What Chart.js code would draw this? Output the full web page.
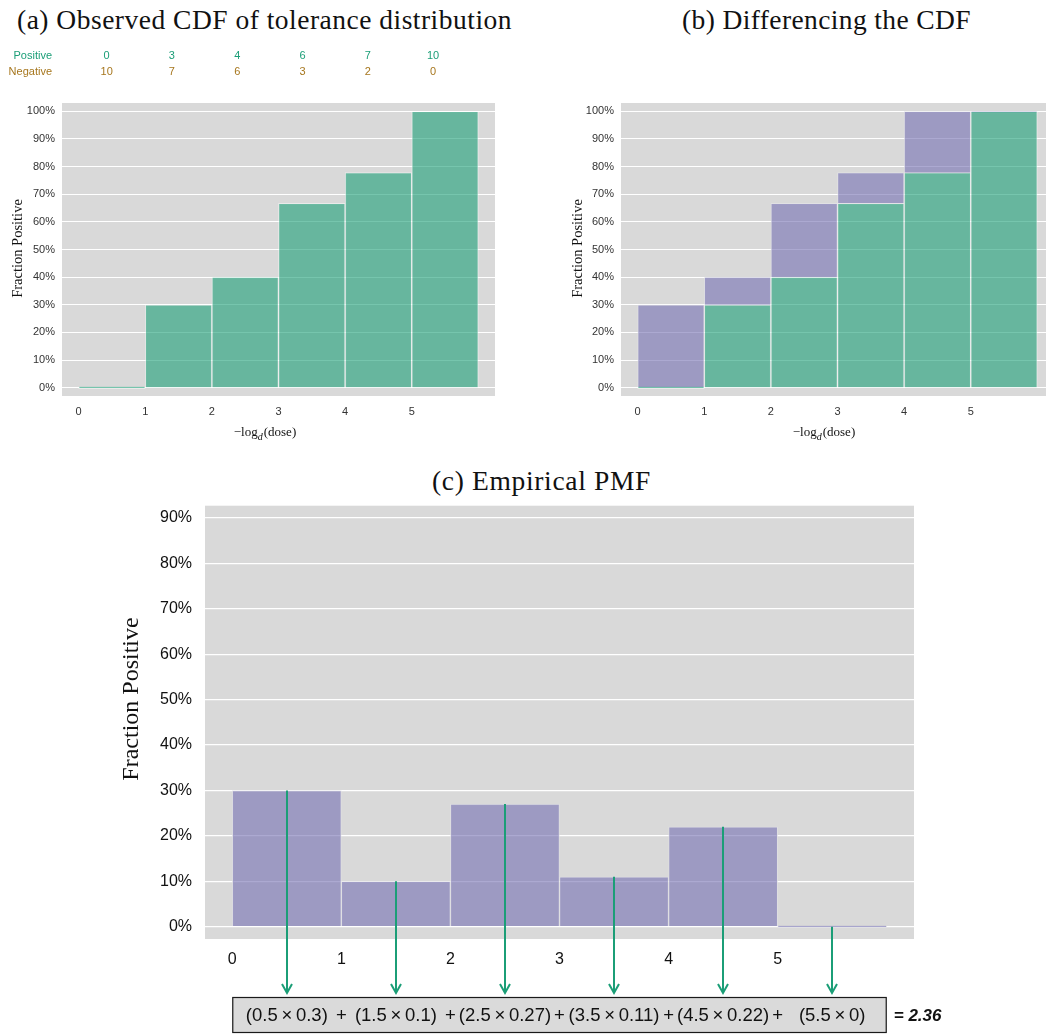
<!DOCTYPE html>
<html>
<head>
<meta charset="utf-8">
<script src="https://cdn.jsdelivr.net/npm/chart.js@4/dist/chart.umd.min.js"></script>
<style>
  html, body { margin: 0; padding: 0; background: #fff; width: 1046px; height: 1034px; overflow: hidden; }
  .panel { position: absolute; }
  .title { position: absolute; font-family: "Liberation Serif", "Times New Roman", serif; color: #111; white-space: nowrap; }
</style>
</head>
<body>
<div class="title" id="titleA">(a) Observed CDF of tolerance distribution</div>
<div class="title" id="titleB">(b) Differencing the CDF</div>
<div class="title" id="titleC">(c) Empirical PMF</div>

<div class="panel" style="left:0px;top:40px"><canvas id="chartA" width="530" height="410"></canvas></div>
<div class="panel" style="left:559px;top:40px"><canvas id="chartB" width="530" height="410"></canvas></div>
<div class="panel" style="left:0px;top:455px"><canvas id="chartC" width="1046" height="579"></canvas></div>

<script>
// ---- data ----
const doseTicks   = [0, 1, 2, 3, 4, 5];
const binMids     = [0.5, 1.5, 2.5, 3.5, 4.5, 5.5];          // centre of each dose interval
const positives   = [0, 3, 4, 6, 7, 10];
const negatives   = [10, 7, 6, 3, 2, 0];
const cdfObserved = [0, 0.3, 0.4, 0.667, 0.778, 1.0];         // fraction positive per interval
const cdfNext     = [0.3, 0.4, 0.667, 0.778, 1.0, 1.0];       // CDF of the following interval
const pmf         = [0.3, 0.1, 0.27, 0.11, 0.22, 0];          // differenced CDF
const pmfMean     = '2.36';
const cdfTicks    = [0, 0.1, 0.2, 0.3, 0.4, 0.5, 0.6, 0.7, 0.8, 0.9, 1.0];
const pmfTicks    = [0, 0.1, 0.2, 0.3, 0.4, 0.5, 0.6, 0.7, 0.8, 0.9];

// ---- styling ----
const GREEN = '#1b9e77';
const BROWN = '#a6761d';
const GREEN_FILL = 'rgba(27,158,119,0.6)';
const PURPLE_FILL = 'rgba(117,112,179,0.6)';
const PANEL_BG = '#d9d9d9';
const SANS = '"Liberation Sans", Arial, Helvetica, sans-serif';
const SERIF = '"Liberation Serif", "Times New Roman", serif';

Chart.defaults.font.family = SANS;

const panelBackground = {
  id: 'panelBackground',
  beforeDraw(chart) {
    const { ctx, chartArea: a } = chart;
    ctx.save();
    ctx.fillStyle = PANEL_BG;
    ctx.fillRect(a.left, a.top, a.right - a.left, a.bottom - a.top);
    ctx.restore();
  }
};

function yTitle(text, size, cx, cy) {
  return {
    id: 'yTitle',
    afterDraw(chart) {
      const ctx = chart.ctx;
      ctx.save();
      ctx.translate(cx, cy);
      ctx.rotate(-Math.PI / 2);
      ctx.font = `${size}px ${SERIF}`;
      ctx.fillStyle = '#111';
      ctx.textAlign = 'center';
      ctx.textBaseline = 'middle';
      ctx.fillText(text, 0, 0);
      ctx.restore();
    }
  };
}

// "−log_d(dose)" with an italic subscript
function doseTitle(cx, cy) {
  return {
    id: 'doseTitle',
    afterDraw(chart) {
      const ctx = chart.ctx;
      ctx.save();
      ctx.fillStyle = '#111';
      ctx.textBaseline = 'alphabetic';
      const main = `13px ${SERIF}`, sub = `italic 10px ${SERIF}`;
      const parts = [['\u2212log', main, 0], ['d', sub, 4], ['(dose)', main, 0]];
      let total = 0;
      parts.forEach(p => { ctx.font = p[1]; total += ctx.measureText(p[0]).width + (p[0] === 'd' ? 1 : 0); });
      let x = cx - total / 2;
      const base = cy + 4;
      parts.forEach(p => {
        ctx.font = p[1];
        ctx.textAlign = 'left';
        ctx.fillText(p[0], x, base + p[2]);
        x += ctx.measureText(p[0]).width + (p[0] === 'd' ? 1 : 0);
      });
      ctx.restore();
    }
  };
}

const countsHeader = {
  id: 'countsHeader',
  afterDraw(chart) {
    const ctx = chart.ctx, xs = chart.scales.x;
    ctx.save();
    ctx.font = `11px ${SANS}`;
    ctx.textBaseline = 'middle';
    ctx.textAlign = 'right';
    ctx.fillStyle = GREEN; ctx.fillText('Positive', 52, 15.5);
    ctx.fillStyle = BROWN; ctx.fillText('Negative', 52, 31.5);
    ctx.textAlign = 'center';
    positives.forEach((v, i) => {
      const x = xs.getPixelForValue(0.42 + 0.98 * i);
      ctx.fillStyle = GREEN; ctx.fillText(String(v), x, 15.5);
      ctx.fillStyle = BROWN; ctx.fillText(String(negatives[i]), x, 31.5);
    });
    ctx.restore();
  }
};

function options(g) {
  return {
    responsive: false,
    animation: false,
    devicePixelRatio: 1,
    events: [],
    layout: { padding: { left: 0, top: g.top, right: g.right, bottom: g.bottom } },
    plugins: { legend: { display: false }, tooltip: { enabled: false } },
    scales: {
      x: {
        type: 'linear', min: -0.25, max: 6.25, offset: false,
        grid: { display: false }, border: { display: false },
        afterBuildTicks: s => { s.ticks = doseTicks.map(v => ({ value: v })); },
        afterFit: s => { s.height = g.xHeight; },
        ticks: { padding: g.xPad, color: g.tickColor, font: { size: g.tickSize }, callback: v => String(v) }
      },
      y: {
        type: 'linear', min: g.yMin, max: g.yMax,
        grid: { color: '#ffffff', lineWidth: g.gridW, drawTicks: false }, border: { display: false },
        afterBuildTicks: s => { s.ticks = g.yTicks.map(v => ({ value: v })); },
        afterFit: s => { s.width = g.yWidth; },
        ticks: { padding: g.yPad, color: g.tickColor, font: { size: g.tickSize }, callback: v => Math.round(v * 100) + '%' }
      }
    }
  };
}

const smallGeom = {
  top: 63, right: 35, bottom: 34, xHeight: 20, yWidth: 62,
  xPad: 1, yPad: 7, tickColor: '#333', tickSize: 11,
  yMin: -0.03, yMax: 1.03, yTicks: cdfTicks, gridW: 1
};

const points = vals => binMids.map((m, i) => ({ x: m, y: vals[i] }));

// (a) observed CDF
new Chart(document.getElementById('chartA'), {
  type: 'bar',
  data: {
    datasets: [{
      data: points(cdfObserved),
      backgroundColor: GREEN_FILL, borderColor: 'rgba(255,255,255,0.45)', borderWidth: 1,
      barPercentage: 1, categoryPercentage: 1, minBarLength: 2
    }]
  },
  options: options(smallGeom),
  plugins: [panelBackground, countsHeader, yTitle('Fraction Positive', 14.5, 18, 208.5), doseTitle(265, 392)]
});

// (b) observed CDF, with the step up to the next interval's CDF shown as floating bars
new Chart(document.getElementById('chartB'), {
  type: 'bar',
  data: {
    datasets: [
      {
        data: points(cdfObserved), order: 0, grouped: false,
        backgroundColor: GREEN_FILL, borderColor: 'rgba(255,255,255,0.45)', borderWidth: 1,
        barPercentage: 1, categoryPercentage: 1, minBarLength: 2
      },
      {
        data: binMids.map((m, i) => ({ x: m, y: [cdfObserved[i], cdfNext[i]] })), order: 1, grouped: false,
        backgroundColor: PURPLE_FILL, borderColor: 'rgba(230,230,235,0.6)', borderWidth: 1,
        barPercentage: 1, categoryPercentage: 1, minBarLength: 2
      }
    ]
  },
  options: options(smallGeom),
  plugins: [panelBackground, yTitle('Fraction Positive', 14.5, 19, 208.5), doseTitle(265, 392)]
});

// (c) empirical PMF with the expectation written underneath
const TIP_Y = 538;
const pmfExpectation = {
  id: 'pmfExpectation',
  afterDatasetsDraw(chart) {
    const { ctx, scales: { x: xs, y: ys } } = chart;
    ctx.save();
    ctx.strokeStyle = GREEN;
    ctx.lineWidth = 2;
    binMids.forEach((m, i) => {
      const x = Math.round(xs.getPixelForValue(m));
      const y0 = ys.getPixelForValue(pmf[i]);
      ctx.beginPath(); ctx.moveTo(x, y0); ctx.lineTo(x, TIP_Y); ctx.stroke();
      ctx.beginPath(); ctx.moveTo(x - 5, TIP_Y - 9); ctx.lineTo(x, TIP_Y); ctx.lineTo(x + 5, TIP_Y - 9); ctx.stroke();
    });
    ctx.restore();
  },
  afterDraw(chart) {
    const { ctx, scales: { x: xs } } = chart;
    const left = xs.getPixelForValue(0), right = xs.getPixelForValue(6);
    const top = TIP_Y + 4, bottom = 578;
    ctx.save();
    ctx.fillStyle = '#dadada';
    ctx.fillRect(left, top, right - left, bottom - top);
    ctx.strokeStyle = '#1a1a1a';
    ctx.lineWidth = 1.2;
    ctx.strokeRect(left + 0.5, top + 0.5, right - left - 1, bottom - top - 1);
    const cy = 561;
    ctx.fillStyle = '#111';
    ctx.textBaseline = 'middle';
    ctx.textAlign = 'center';
    ctx.font = `18.5px ${SANS}`;
    binMids.forEach((m, i) => {
      ctx.fillText(`(${m}\u2009\u00d7\u2009${pmf[i]})`, xs.getPixelForValue(m), cy);
      if (i < binMids.length - 1) ctx.fillText('+', xs.getPixelForValue(m + 0.5), cy);
    });
    ctx.textAlign = 'left';
    ctx.font = `italic bold 17px ${SANS}`;
    ctx.fillText('= ' + pmfMean, right + 7, cy);
    ctx.restore();
  }
};

new Chart(document.getElementById('chartC'), {
  type: 'bar',
  data: {
    datasets: [{
      data: points(pmf),
      backgroundColor: PURPLE_FILL, borderColor: 'rgba(225,225,230,0.7)', borderWidth: 1,
      barPercentage: 1, categoryPercentage: 1, minBarLength: 2
    }]
  },
  options: options({
    top: 50.7, right: 132, bottom: 65, xHeight: 30, yWidth: 205,
    xPad: 3, yPad: 13, tickColor: '#111', tickSize: 16,
    yMin: -0.027, yMax: 0.927, yTicks: pmfTicks, gridW: 1.3
  }),
  plugins: [panelBackground, yTitle('Fraction Positive', 24, 132, 244), pmfExpectation]
});

// ---- panel titles ----
function placeTitle(id, left, baseline, width, size) {
  const el = document.getElementById(id);
  el.style.fontSize = size + 'px';
  el.style.lineHeight = size + 'px';
  const ctx = document.createElement('canvas').getContext('2d');
  ctx.font = `${size}px ${SERIF}`;
  const w = ctx.measureText(el.textContent).width;
  el.style.letterSpacing = ((width - w) / el.textContent.length) + 'px';
  el.style.left = left + 'px';
  el.style.top = (baseline - 0.8375 * size) + 'px';
}
placeTitle('titleA', 17, 29, 495, 27.5);
placeTitle('titleB', 682, 29, 289, 27.5);
placeTitle('titleC', 432, 490, 219, 27.5);
</script>
</body>
</html>
